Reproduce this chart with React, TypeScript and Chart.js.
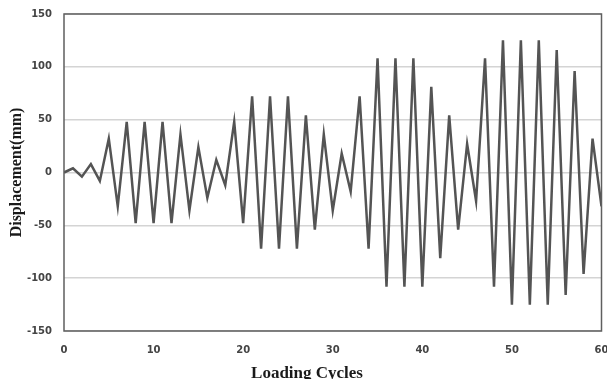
import React, { useEffect, useRef } from "react";
import { Chart, registerables } from "chart.js";

Chart.register(...registerables);

const cycles = [
  0, 1, 2, 3, 4, 5, 6, 7, 8, 9, 10, 11, 12, 13, 14, 15, 16, 17, 18, 19, 20,
  21, 22, 23, 24, 25, 26, 27, 28, 29, 30, 31, 32, 33, 34, 35, 36, 37, 38, 39, 40,
  41, 42, 43, 44, 45, 46, 47, 48, 49, 50, 51, 52, 53, 54, 55, 56, 57, 58, 59, 60,
];

const displacement = [
  0, 4, -4, 8, -8, 32, -32, 48, -48, 48, -48, 48, -48, 36, -36, 24, -24, 12, -12, 48, -48,
  72, -72, 72, -72, 72, -72, 54, -54, 36, -36, 18, -18, 72, -72, 108, -108, 108, -108, 108, -108,
  81, -81, 54, -54, 27, -27, 108, -108, 125, -125, 125, -125, 125, -125, 116, -116, 96, -96, 32, -32,
];

const xTicks = [0, 10, 20, 30, 40, 50, 60];
const yTicks = [-150, -100, -50, 0, 50, 100, 150];

const xTitle = "Loading Cycles";
const yTitle = "Displacement(mm)";

const TITLE_FAMILY = "'Liberation Serif', 'Times New Roman', serif";

const frame = {
  id: "frame",
  afterDraw(chart: any) {
    const { ctx, chartArea } = chart;
    ctx.save();
    ctx.strokeStyle = "#5f5f5f";
    ctx.lineWidth = 1.5;
    ctx.strokeRect(chartArea.left, chartArea.top, chartArea.right - chartArea.left, chartArea.bottom - chartArea.top);
    ctx.fillStyle = "#1a1a1a";
    ctx.textAlign = "center";
    ctx.textBaseline = "alphabetic";
    ctx.font = `bold 17px ${TITLE_FAMILY}`;
    ctx.fillText(xTitle, 307, 378);
    ctx.translate(20.5, (chartArea.top + chartArea.bottom) / 2);
    ctx.rotate(-Math.PI / 2);
    ctx.font = `bold 16px ${TITLE_FAMILY}`;
    ctx.fillText(yTitle, 0, 0);
    ctx.restore();
  },
};

export default function App() {
  const ref = useRef<HTMLCanvasElement | null>(null);

  useEffect(() => {
    if (!ref.current) return;
    const tickFont = { family: "'DejaVu Sans', sans-serif", size: 10, weight: "bold" as const };
    const chart = new Chart(ref.current, {
      type: "line",
      data: {
        datasets: [
          {
            data: cycles.map((c, i) => ({ x: c, y: displacement[i] })),
            borderColor: "#545454",
            borderWidth: 2.5,
            pointRadius: 0,
            tension: 0,
            fill: false,
          },
        ],
      },
      options: {
        animation: false,
        responsive: false,
        layout: { padding: { left: 0, top: 14, right: 5.5, bottom: 0 } },
        plugins: { legend: { display: false }, tooltip: { enabled: false } },
        scales: {
          x: {
            type: "linear",
            min: 0,
            max: 60,
            afterBuildTicks: (s: any) => {
              s.ticks = xTicks.map((v) => ({ value: v }));
            },
            afterFit: (s: any) => {
              s.height = 48;
              s.paddingLeft = 0;
              s.paddingRight = 0;
            },
            grid: { display: false, drawTicks: false },
            border: { display: false },
            ticks: { font: tickFont, color: "#444444", padding: 13, maxRotation: 0, autoSkip: false },
          },
          y: {
            type: "linear",
            min: -150,
            max: 150,
            afterBuildTicks: (s: any) => {
              s.ticks = yTicks.map((v) => ({ value: v }));
            },
            afterFit: (s: any) => {
              s.width = 64;
              s.paddingTop = 0;
              s.paddingBottom = 0;
            },
            grid: { color: "#d4d4d4", lineWidth: 1.5, drawTicks: false },
            border: { display: false },
            ticks: { font: tickFont, color: "#444444", padding: 12 },
          },
        },
      },
      plugins: [frame],
    });
    return () => chart.destroy();
  }, []);

  return (
    <div style={{ position: "fixed", left: 0, top: 0, width: 607, height: 379, background: "#ffffff" }}>
      <canvas ref={ref} width={607} height={379} style={{ display: "block" }} />
    </div>
  );
}
